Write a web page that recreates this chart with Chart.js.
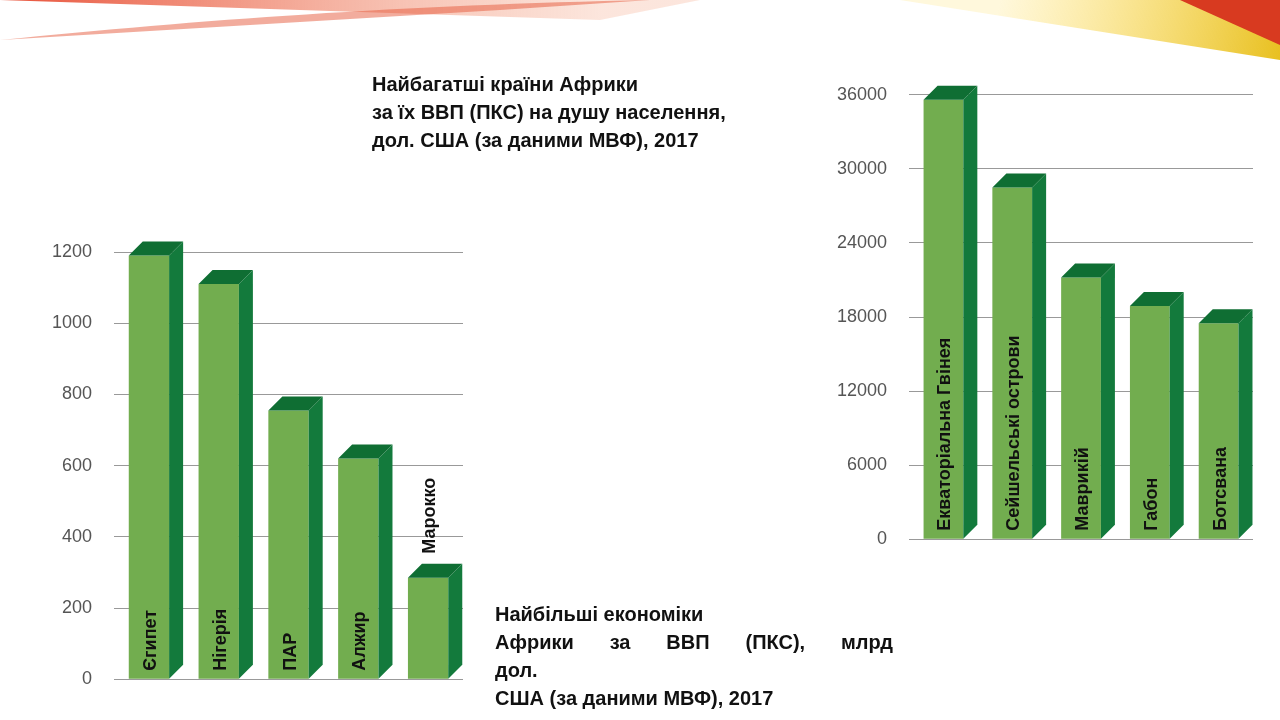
<!DOCTYPE html>
<html><head><meta charset="utf-8">
<script src="https://cdn.jsdelivr.net/npm/chart.js@4/dist/chart.umd.min.js"></script>
<style>
body{margin:0;width:1280px;height:720px;overflow:hidden;background:#fff;font-family:"Liberation Sans",Arial,sans-serif;position:relative}
#bg{position:absolute;left:0;top:0}
.t{position:absolute;font-weight:bold;font-size:20px;line-height:28px;color:#111}
.c{position:absolute;background:#fff}
.j{display:flex;justify-content:space-between}
</style></head><body>
<canvas id="bg" width="1280" height="720"></canvas>
<div class="c" style="left:25px;top:212px;width:450px;height:500px"><canvas id="c1"></canvas></div>
<div class="c" style="left:815px;top:62px;width:452px;height:510px"><canvas id="c2"></canvas></div>
<div class="t" style="left:372px;top:70px">Найбагатші країни Африки<br>за їх ВВП (ПКС) на душу населення,<br>дол. США (за даними МВФ), 2017</div>
<div class="t" style="left:495px;top:600px;width:398px">Найбільші економіки<div class="j"><span>Африки</span><span>за</span><span>ВВП</span><span>(ПКС),</span><span>млрд</span></div>дол.<br>США (за даними МВФ), 2017</div>
<script>
const leftCategories=["Єгипет","Нігерія","ПАР","Алжир","Марокко"];
const leftValues=[1190,1110,755,620,285];
const leftTicks=[0,200,400,600,800,1000,1200];
const rightCategories=["Екваторіальна Гвінея","Сейшельські острови","Маврикій","Габон","Ботсвана"];
const rightValues=[35600,28500,21200,18900,17500];
const rightTicks=[0,6000,12000,18000,24000,30000,36000];

const g=document.getElementById('bg').getContext('2d');
function sw(c,pts){g.fillStyle=c;g.beginPath();g.moveTo(pts[0],pts[1]);g.bezierCurveTo(pts[2],pts[3],pts[4],pts[5],pts[6],pts[7]);g.lineTo(pts[8],pts[9]);g.bezierCurveTo(pts[10],pts[11],pts[12],pts[13],pts[14],pts[15]);g.closePath();g.fill();}
let gr=g.createLinearGradient(0,0,600,0);gr.addColorStop(0,'#e8523a');gr.addColorStop(1,'rgba(245,170,140,0.3)');
sw(gr,[0,0,200,0,500,0,700,0,600,20,300,90,0,150]);
sw('rgba(230,90,60,0.5)',[0,40,200,20,400,5,650,0,500,10,250,60,0,110]);
let gr2=g.createLinearGradient(1000,0,1280,60);gr2.addColorStop(0,'rgba(255,220,80,0.2)');gr2.addColorStop(1,'#e8c020');
sw(gr2,[900,0,1100,0,1200,0,1280,0,1280,60,1230,40,1100,10]);
sw('#d83a20',[1180,0,1230,0,1260,0,1280,0,1280,45,1250,20,1220,5]);

const bar3d={id:'bar3d',afterDatasetsDraw(ch,a,o){
 const ctx=ch.ctx,m=ch.getDatasetMeta(0),d=14;
 m.data.forEach((b,i)=>{
  const l=b.x-b.width/2,r=b.x+b.width/2,t=b.y,bs=b.base;
  ctx.fillStyle='#137a3c';ctx.beginPath();ctx.moveTo(r,t);ctx.lineTo(r+d,t-d);ctx.lineTo(r+d,bs-d);ctx.lineTo(r,bs);ctx.fill();
  ctx.fillStyle='#0f6e33';ctx.beginPath();ctx.moveTo(l,t);ctx.lineTo(l+d,t-d);ctx.lineTo(r+d,t-d);ctx.lineTo(r,t);ctx.fill();
  ctx.save();ctx.font='bold 18px "Liberation Sans",Arial';ctx.fillStyle='#111';
  const lab=ch.data.labels[i];const w=ctx.measureText(lab).width;
  let y0=bs-8; if(w>bs-t-40){y0=t-10-d;}
  ctx.translate(b.x+7,y0);ctx.rotate(-Math.PI/2);ctx.fillText(lab,0,0);ctx.restore();
 });}};

function mk(id,labels,vals,ticks,pad){
 new Chart(document.getElementById(id),{type:'bar',
 data:{labels:labels,datasets:[{data:vals,backgroundColor:'#72ad4f',categoryPercentage:0.85,barPercentage:0.68}]},
 options:{responsive:true,maintainAspectRatio:false,animation:false,layout:{padding:pad},
 plugins:{legend:{display:false},tooltip:{enabled:false}},
 scales:{x:{ticks:{display:false},grid:{display:false},border:{display:false}},
 y:{min:ticks[0],max:ticks[ticks.length-1],afterBuildTicks:s=>{s.ticks=ticks.map(v=>({value:v}))},
   ticks:{color:'#555',font:{size:18,family:'"Liberation Sans",Arial'},padding:22,callback:v=>String(v)},
   grid:{color:'#999',drawTicks:false},border:{display:false}}}},
 plugins:[bar3d]});
}
mk('c1',leftCategories,leftValues,leftTicks,{top:40,right:12,bottom:15,left:5});
mk('c2',rightCategories,rightValues,rightTicks,{top:31,right:14,bottom:17,left:0});
</script></body></html>
